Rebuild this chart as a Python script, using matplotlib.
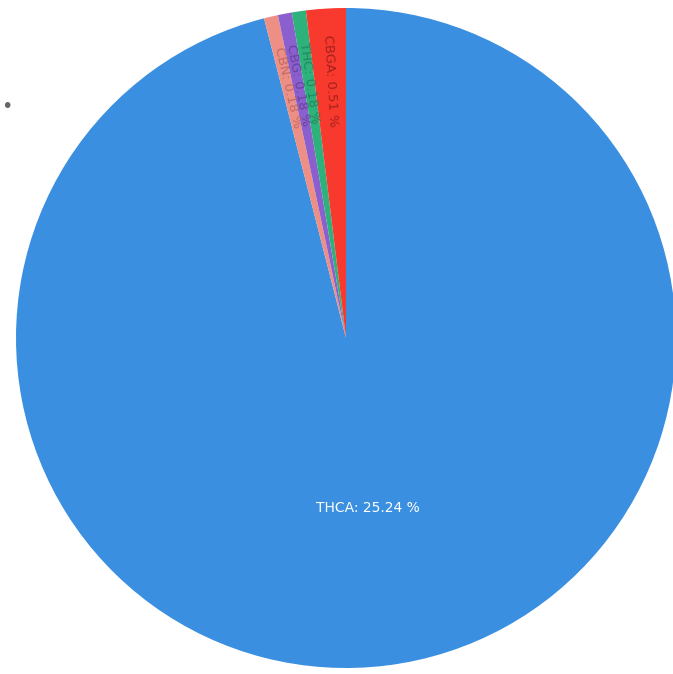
import numpy as np
import matplotlib.pyplot as plt

# cannabinoid content (%), order clockwise from the top
labels = ["THCA", "CBN", "CBG", "THC", "CBGA"]
values = [25.24, 0.18, 0.18, 0.18, 0.51]
colors = ["#3a8fe0", "#ee8f86", "#8c5fcf", "#2eb27c", "#f8392e"]
text_colors = ["white", "#b0605a", "#5a3a90", "#1d7a50", "#8a1a14"]

fig = plt.figure(figsize=(6.73, 6.74), dpi=100)
# axes in pixels: circle centred at (346, 338) with radius 330
ax = fig.add_axes([16 / 673, 6 / 674, 660 / 673, 660 / 674])

wedges, _ = ax.pie(values, colors=colors, startangle=90, counterclock=False,
                   radius=1.0, wedgeprops=dict(linewidth=0))

for w, lab, val, tc in zip(wedges, labels, values, text_colors):
    mid = np.deg2rad((w.theta1 + w.theta2) / 2)
    txt = f"{lab}: {val:.2f} %"
    if lab == "THCA":
        r = 0.52
        ax.text(r * np.cos(mid), r * np.sin(mid), txt, color=tc, fontsize=10,
                ha="center", va="center")
    else:
        r = 0.78
        rot = np.rad2deg(mid) - 180
        ax.text(r * np.cos(mid), r * np.sin(mid), txt, color=tc, fontsize=9.5,
                ha="center", va="center", rotation=rot, rotation_mode="anchor",
                alpha=0.75)

ax.set_xlim(-1, 1)
ax.set_ylim(-1, 1)
ax.set_aspect("equal")
ax.axis("off")

# leftover bit of a cut-off legend at the top left
fig.text(7 / 673, 1 - 106 / 674, "•", color="#666666", fontsize=14,
         ha="center", va="center")

fig.savefig("out.png", dpi=100)
